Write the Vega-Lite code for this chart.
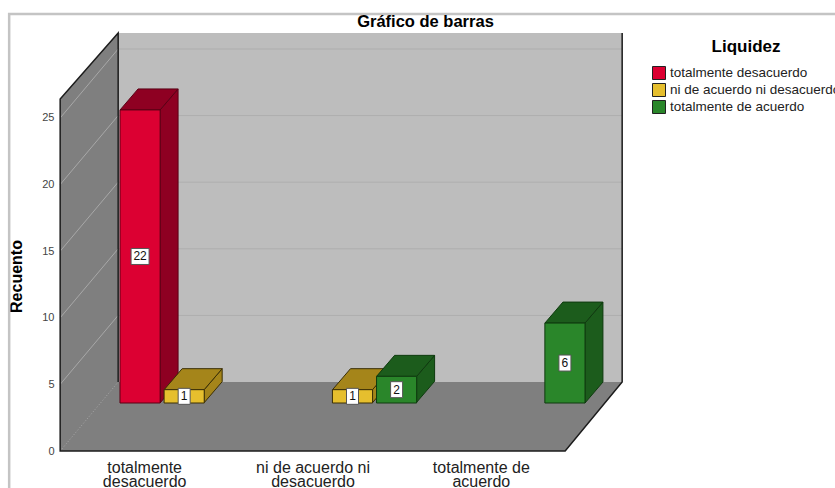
{"$schema":"https://vega.github.io/schema/vega-lite/v6.json","width":505,"height":418,"autosize":"none","padding":{"left":60,"top":33,"right":270,"bottom":37},"background":"white","view":{"stroke":null},"title":{"text":"Gráfico de barras","anchor":"start","dx":353,"dy":27,"offset":6,"fontSize":16.5,"fontWeight":"bold","font":"Liberation Sans","color":"#000"},"config":{"font":"Liberation Sans"},"datasets":{"barras":[{"categoria":"totalmente desacuerdo","liquidez":"totalmente desacuerdo","recuento":22},{"categoria":"totalmente desacuerdo","liquidez":"ni de acuerdo ni desacuerdo","recuento":1},{"categoria":"ni de acuerdo ni desacuerdo","liquidez":"ni de acuerdo ni desacuerdo","recuento":1},{"categoria":"ni de acuerdo ni desacuerdo","liquidez":"totalmente de acuerdo","recuento":2},{"categoria":"totalmente de acuerdo","liquidez":"totalmente de acuerdo","recuento":6}],"niveles":[{"categoria":"totalmente desacuerdo","nivel":5},{"categoria":"totalmente desacuerdo","nivel":10},{"categoria":"totalmente desacuerdo","nivel":15},{"categoria":"totalmente desacuerdo","nivel":20},{"categoria":"totalmente desacuerdo","nivel":25}],"origen":[{"categoria":"totalmente desacuerdo","nivel":0}]},"resolve":{"scale":{"x":"independent","y":"independent"}},"layer":[{"layer":[{"data":{"name":"origen"},"mark":{"type":"point","filled":true,"opacity":1,"size":4,"color":"#7f7f7f","shape":"M-84 0 L-84 -352 L-26 -418 L-26 -69 L478 -69 L421 0 Z"},"encoding":{"x":{"field":"categoria","type":"nominal","sort":null,"title":null,"scale":{"domain":["totalmente desacuerdo","ni de acuerdo ni desacuerdo","totalmente de acuerdo"],"paddingInner":0.214,"paddingOuter":0.107},"axis":{"ticks":false,"domain":false,"grid":false,"labelAngle":0,"labelFontSize":16,"labelColor":"#222","labelPadding":8,"labelLineHeight":14,"labelLimit":0,"labelExpr":"datum.index < 0.25 ? ['totalmente','desacuerdo'] : datum.index < 0.75 ? ['ni de acuerdo ni','desacuerdo'] : ['totalmente de','acuerdo']"}},"y":{"field":"nivel","type":"quantitative","title":"Recuento","scale":{"domain":[0,31.38],"nice":false},"axis":{"values":[0,5,10,15,20,25],"ticks":false,"domain":false,"grid":false,"labelFontSize":11,"labelColor":"#444","labelPadding":6,"titleFontSize":16,"titleFontWeight":"bold","titleColor":"#000","titleX":-36,"titleY":243}}}},{"data":{"name":"origen"},"mark":{"type":"point","filled":true,"opacity":1,"size":4,"color":"#bdbdbd","shape":"M-26 -418 L478 -418 L478 -69 L-26 -69 Z"},"encoding":{"x":{"field":"categoria","type":"nominal","sort":null},"y":{"field":"nivel","type":"quantitative"}}},{"data":{"name":"niveles"},"mark":{"type":"point","filled":false,"opacity":1,"size":4,"strokeWidth":1,"color":"#aeaeae","shape":"M-26 -69 L478 -69"},"encoding":{"x":{"field":"categoria","type":"nominal","sort":null},"y":{"field":"nivel","type":"quantitative"}}},{"data":{"name":"niveles"},"mark":{"type":"point","filled":false,"opacity":1,"size":4,"strokeWidth":1,"color":"#a8a8a8","shape":"M-84 0 L-26 -69"},"encoding":{"x":{"field":"categoria","type":"nominal","sort":null},"y":{"field":"nivel","type":"quantitative"}}},{"data":{"name":"origen"},"mark":{"type":"point","filled":false,"opacity":1,"size":4,"strokeWidth":1,"color":"#a8a8a8","strokeDash":[1,2],"shape":"M-84 0 L-26 -69"},"encoding":{"x":{"field":"categoria","type":"nominal","sort":null},"y":{"field":"nivel","type":"quantitative"}}},{"data":{"name":"origen"},"mark":{"type":"point","filled":false,"opacity":1,"size":4,"strokeWidth":1.5,"color":"#1c1c1c","shape":"M-26 -69 L-26 -418 L-84 -352 L-84 0 L421 0 L478 -69 L478 -418"},"encoding":{"x":{"field":"categoria","type":"nominal","sort":null},"y":{"field":"nivel","type":"quantitative"}}},{"data":{"name":"origen"},"mark":{"type":"point","filled":false,"opacity":1,"size":4,"strokeWidth":2.5,"color":"#c4c4c4","shape":"M-135 37 L-135 -437 L700 -437"},"encoding":{"x":{"field":"categoria","type":"nominal","sort":null},"y":{"field":"nivel","type":"quantitative"}}}]},{"data":{"name":"barras"},"resolve":{"scale":{"shape":"independent"}},"encoding":{"x":{"field":"categoria","type":"nominal","sort":null,"axis":null,"scale":{"domain":["totalmente desacuerdo","ni de acuerdo ni desacuerdo","totalmente de acuerdo"],"paddingInner":0.214,"paddingOuter":0.107,"range":[40,545]}},"xOffset":{"field":"liquidez","type":"nominal","sort":null,"scale":{"domain":["totalmente desacuerdo","ni de acuerdo ni desacuerdo","totalmente de acuerdo"],"paddingInner":0.09,"paddingOuter":0.045}},"y":{"field":"recuento","type":"quantitative","axis":null,"stack":null,"scale":{"domain":[0,31.38],"nice":false,"range":[370,-48]}}},"layer":[{"mark":{"type":"point","filled":true,"opacity":1,"size":4,"strokeWidth":1},"encoding":{"shape":{"field":"recuento","type":"nominal","legend":null,"scale":{"domain":[22,1,2,6],"range":["M20 0 L38 -21 L38 272 L20 293 Z","M20 0 L38 -21 L38 -8 L20 13 Z","M20 0 L38 -21 L38 5 L20 26 Z","M20 0 L38 -21 L38 59 L20 80 Z"]}},"color":{"field":"liquidez","type":"nominal","legend":null,"scale":{"domain":["totalmente de acuerdo","totalmente desacuerdo","ni de acuerdo ni desacuerdo"],"range":["#1c5c1c","#8e0022","#a5851a"]}},"stroke":{"field":"liquidez","type":"nominal","legend":null,"scale":{"domain":["ni de acuerdo ni desacuerdo","totalmente desacuerdo","totalmente de acuerdo"],"range":["#3a2e05","#5a0015","#0f3a0f"]}}}},{"mark":{"type":"point","filled":true,"opacity":1,"size":4,"strokeWidth":1,"shape":"M-20 0 L-2 -21 L38 -21 L20 0 Z"},"encoding":{"color":{"field":"liquidez","type":"nominal","legend":null},"stroke":{"field":"liquidez","type":"nominal","legend":null}}},{"mark":{"type":"bar","strokeWidth":1},"encoding":{"fill":{"field":"liquidez","type":"nominal","title":"Liquidez","sort":null,"scale":{"domain":["totalmente desacuerdo","ni de acuerdo ni desacuerdo","totalmente de acuerdo"],"range":["#dc0032","#e6bf2e","#2a862a"]},"legend":{"orient":"none","legendX":592,"legendY":6,"symbolType":"square","symbolSize":169,"symbolStrokeColor":"#222","symbolStrokeWidth":1,"labelFontSize":13.5,"labelColor":"#222","labelLimit":0,"labelOffset":4,"rowPadding":-1,"titleFontSize":17,"titleFontWeight":"bold","titleColor":"#000","titleAnchor":"middle","titlePadding":10}},"stroke":{"field":"liquidez","type":"nominal","legend":null}}},{"transform":[{"calculate":"datum.recuento / 2","as":"centro"}],"mark":{"type":"point","filled":true,"opacity":1,"size":4,"color":"white","stroke":"#555","strokeWidth":1},"encoding":{"y":{"field":"centro","type":"quantitative"},"shape":{"field":"recuento","type":"nominal","legend":null,"scale":{"domain":[22,1,2,6],"range":["M-9 -8 L9 -8 L9 8 L-9 8 Z","M-6 -8 L6 -8 L6 8 L-6 8 Z","M-6 -8 L6 -8 L6 8 L-6 8 Z","M-6 -8 L6 -8 L6 8 L-6 8 Z"]}}}},{"transform":[{"calculate":"datum.recuento / 2","as":"centro"}],"mark":{"type":"text","fontSize":12,"color":"#111","align":"center","baseline":"middle"},"encoding":{"y":{"field":"centro","type":"quantitative"},"text":{"field":"recuento","type":"quantitative"}}}]}]}
